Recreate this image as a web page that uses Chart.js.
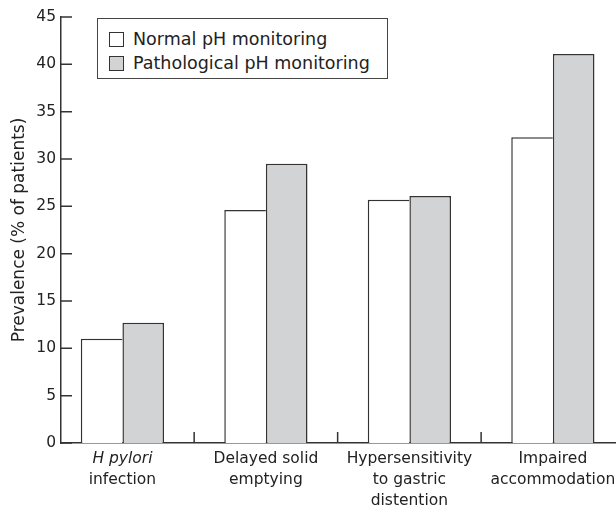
<!DOCTYPE html>
<html>
<head>
<meta charset="utf-8">
<script src="https://cdn.jsdelivr.net/npm/chart.js@4.4.1/dist/chart.umd.min.js"></script>
<style>
  html, body { margin: 0; padding: 0; background: #fff; overflow: hidden; }
  #wrap { position: relative; width: 616px; height: 512px; overflow: hidden; }
  #houder { position: absolute; left: 0; top: 0; width: 630px; height: 512px; }
  #legend {
    position: absolute; left: 97px; top: 18px; width: 289px; height: 59px;
    border: 1.5px solid #444; background: #fff;
    font: 17.5px "DejaVu Sans", sans-serif; color: #222;
  }
  .legend-item { position: absolute; left: 11px; height: 20px; line-height: 20px; display: flex; align-items: center; white-space: nowrap; }
  .legend-item .dot { width: 13px; height: 13px; border: 1px solid #333; margin-right: 9px; }
</style>
</head>
<body>
<div id="wrap">
  <div id="houder"><canvas id="grafiek"></canvas></div>
  <div id="legend"></div>
</div>
<script>
const REEKSEN = ['Normal pH monitoring', 'Pathological pH monitoring'];
const KLEUREN = ['#ffffff', '#d2d3d5'];
const LABEL_REGEL1 = ['H pylori', 'Delayed solid', 'Hypersensitivity', 'Impaired'];
const LABEL_REST = [['infection'], ['emptying'], ['to gastric', 'distention'], ['accommodation']];
const NORMAAL = [11.0, 24.6, 25.7, 32.3];
const PATHOLOGISCH = [12.7, 29.5, 26.1, 41.1];
const Y_TICKS = [0, 5, 10, 15, 20, 25, 30, 35, 40, 45];
const SCHEIDINGEN = [0.5, 1.5, 2.5];

const LIJN = '#333';
const FONT = '"DejaVu Sans", sans-serif';
const X_MIN = -0.428;
const X_MAX = 3.44;

// ticks naar binnen: Chart.js tekent ze alleen naar buiten
const binnenTicks = {
  id: 'binnenTicks',
  afterDatasetsDraw(chart) {
    const { ctx, scales: { x, y } } = chart;
    ctx.save();
    ctx.strokeStyle = LIJN;
    ctx.lineWidth = 1.5;
    ctx.beginPath();
    y.ticks.forEach(t => {
      const py = y.getPixelForValue(t.value);
      ctx.moveTo(x.left, py);
      ctx.lineTo(x.left + 11, py);
    });
    SCHEIDINGEN.forEach(v => {
      const px = x.getPixelForValue(v);
      ctx.moveTo(px, y.bottom);
      ctx.lineTo(px, y.bottom - 11);
    });
    ctx.stroke();
    ctx.restore();
  }
};

function categorieAs(extra) {
  return Object.assign({
    type: 'linear',
    position: 'bottom',
    offset: false,
    min: X_MIN,
    max: X_MAX,
    bounds: 'data',
    afterBuildTicks: s => { s.ticks = LABEL_REGEL1.map((_, i) => ({ value: i })); },
    grid: { display: false, drawTicks: false, offset: false },
  }, extra);
}

function vulLegende(chart) {
  const legend = document.getElementById('legend');
  legend.innerHTML = '';
  chart.data.datasets.forEach((ds, i) => {
    const item = document.createElement('div');
    item.className = 'legend-item';
    item.style.top = (10 + i * 24) + 'px';
    item.innerHTML = `<span class="dot" style="background:${ds.backgroundColor}"></span>${ds.label}`;
    legend.appendChild(item);
  });
}

const grafiek = new Chart(document.getElementById('grafiek'), {
  type: 'bar',
  data: {
    datasets: [
      {
        label: REEKSEN[0],
        data: NORMAAL.map((v, i) => ({ x: i, y: v })),
        backgroundColor: KLEUREN[0],
        borderColor: LIJN,
        borderWidth: { top: 1.5, left: 1.5, right: 0, bottom: 0 },
        borderSkipped: 'start',
      },
      {
        label: REEKSEN[1],
        data: PATHOLOGISCH.map((v, i) => ({ x: i, y: v })),
        backgroundColor: KLEUREN[1],
        borderColor: LIJN,
        borderWidth: 1.5,
        borderSkipped: 'start',
      }
    ]
  },
  options: {
    responsive: true,
    maintainAspectRatio: false,
    animation: false,
    devicePixelRatio: 1,
    categoryPercentage: 0.58,
    barPercentage: 1,
    layout: { padding: { top: 17, right: 14, left: 0, bottom: 0 } },
    plugins: { legend: { display: false }, tooltip: { enabled: false } },
    scales: {
      x: categorieAs({
        weight: 0,
        border: { display: true, color: LIJN, width: 1.5 },
        ticks: {
          color: '#222',
          padding: 5,
          maxRotation: 0,
          autoSkip: false,
          font: c => ({ family: FONT, size: 15.5, lineHeight: 1.39, style: c.index === 0 ? 'italic' : 'normal' }),
          callback: (v) => LABEL_REGEL1[v],
        },
        afterFit: s => { s.height = 26; },
      }),
      x2: categorieAs({
        weight: 1,
        border: { display: false },
        ticks: {
          color: '#222',
          padding: 0,
          maxRotation: 0,
          autoSkip: false,
          font: { family: FONT, size: 15.5, lineHeight: 1.39 },
          callback: (v) => LABEL_REST[v],
        },
        afterFit: s => { s.height = 43; },
      }),
      y: {
        min: 0,
        max: 45,
        afterBuildTicks: s => { s.ticks = Y_TICKS.map(v => ({ value: v })); },
        afterFit: s => { s.width = 61; },
        border: { display: true, color: LIJN, width: 1.5 },
        grid: { display: false, drawTicks: false },
        ticks: { color: '#222', padding: 5, font: { family: FONT, size: 15.5 } },
        title: {
          display: true,
          text: 'Prevalence (% of patients)',
          color: '#222',
          font: { family: FONT, size: 17 },
          padding: { top: 9, bottom: 0 },
        },
      }
    }
  },
  plugins: [binnenTicks]
});

vulLegende(grafiek);
</script>
</body>
</html>
